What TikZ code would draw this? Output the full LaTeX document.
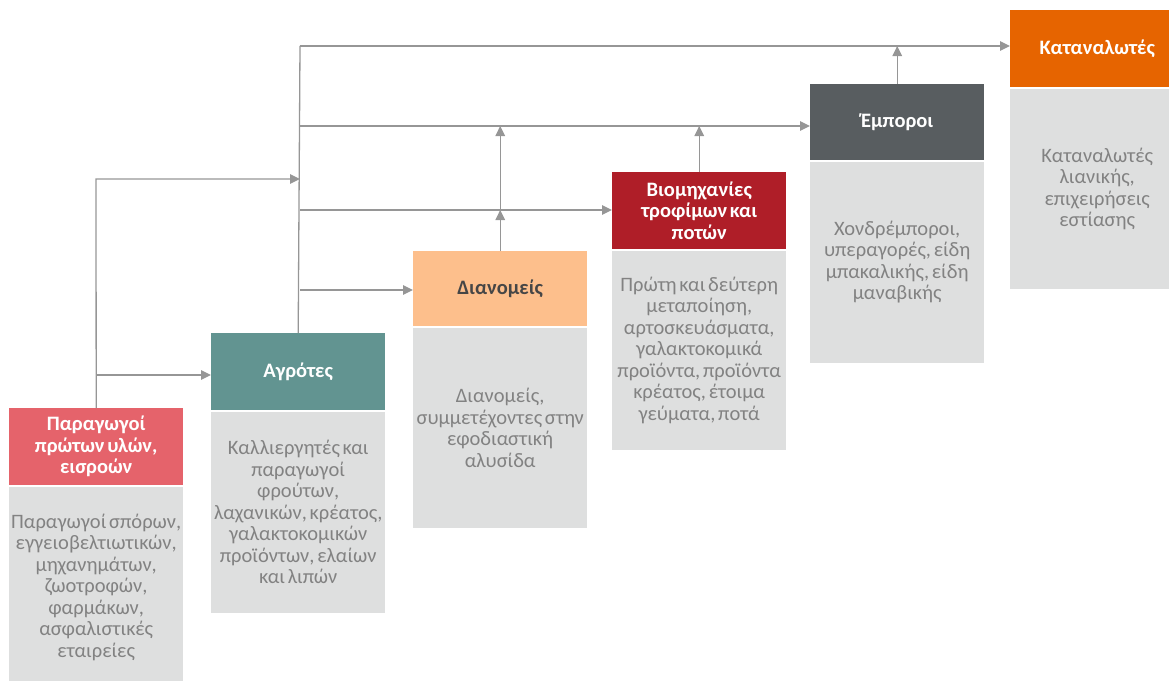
\documentclass[tikz,border=0pt]{standalone}
\usepackage{fontspec}
\setmainfont{Carlito}[WordSpace=0.6]
\usetikzlibrary{arrows.meta}
\definecolor{hRed}{RGB}{229,99,107}
\definecolor{hTeal}{RGB}{98,148,145}
\definecolor{hPeach}{RGB}{253,191,140}
\definecolor{hDark}{RGB}{175,30,40}
\definecolor{hGray}{RGB}{88,93,96}
\definecolor{hOrange}{RGB}{230,100,0}
\definecolor{bodyGray}{RGB}{222,223,223}
\definecolor{bodyText}{RGB}{130,130,130}
\definecolor{lineGray}{RGB}{150,150,150}
\definecolor{darkText}{RGB}{70,70,70}
\begin{document}
\begin{tikzpicture}[x=1pt,y=-1pt,
  hdr/.style={anchor=north west, minimum width=174pt, inner sep=0pt, align=center,
    font=\fontsize{20.5}{21.5}\selectfont\bfseries, text=white},
  bdy/.style={anchor=north west, minimum width=174pt, minimum height=200pt, inner sep=0pt,
    align=center, fill=bodyGray, text=bodyText, font=\fontsize{20.5}{21.5}\selectfont},
  conn/.style={draw=lineGray, line width=1.3pt},
  arr/.style={conn, -{Triangle[length=10pt,width=9.5pt]}}]
\useasboundingbox (0,0) rectangle (1169,680);
\clip (0,0) rectangle (1169,680);

% box 1
\node[hdr, fill=hRed, minimum height=77pt] (h1) at (9,408) {Παραγωγοί\\πρώτων υλών,\\εισροών};
\node[bdy] (b1) at (9,487) {Παραγωγοί σπόρων,\\εγγειοβελτιωτικών,\\μηχανημάτων,\\ζωοτροφών,\\φαρμάκων,\\ασφαλιστικές\\εταιρείες};
% box 2
\node[hdr, fill=hTeal, minimum height=77pt] (h2) at (211,333) {Αγρότες};
\node[bdy, minimum height=201pt] (b2) at (211,411.5) {Καλλιεργητές και\\παραγωγοί\\φρούτων,\\λαχανικών, κρέατος,\\γαλακτοκομικών\\προϊόντων, ελαίων\\και λιπών};
% box 3
\node[hdr, fill=hPeach, text=darkText, minimum height=75pt] (h3) at (413,251) {Διανομείς};
\node[bdy, minimum height=200pt] (b3) at (413,327.5) {Διανομείς,\\συμμετέχοντες στην\\εφοδιαστική\\αλυσίδα};
% box 4
\node[hdr, fill=hDark, minimum height=77pt] (h4) at (612,172) {Βιομηχανίες\\τροφίμων και\\ποτών};
\node[bdy, minimum height=199pt] (b4) at (612,250.5) {Πρώτη και δεύτερη\\μεταποίηση,\\αρτοσκευάσματα,\\γαλακτοκομικά\\προϊόντα, προϊόντα\\κρέατος, έτοιμα\\γεύματα, ποτά};
% box 5
\node[hdr, fill=hGray, minimum height=76pt] (h5) at (810,84) {Έμποροι};
\node[bdy, minimum height=201pt] (b5) at (810,161.5) {Χονδρέμποροι,\\υπεραγορές, είδη\\μπακαλικής, είδη\\μαναβικής};
% box 6
\node[hdr, fill=hOrange, minimum height=77pt] (h6) at (1010,10) {Καταναλωτές};
\node[bdy, minimum height=200pt] (b6) at (1010,88.5) {Καταναλωτές\\λιανικής,\\επιχειρήσεις\\εστίασης};

% connector coordinates
\coordinate (c1) at (96,179);
\coordinate (t1) at (300,179);
\coordinate (c2) at (96,375);
\coordinate (top) at (300,46);
\coordinate (t5) at (300,126);
\coordinate (t4) at (300,210);
\coordinate (t3) at (300,290);

% left feeder
\draw[arr] (h1.north) -- (c1) -- (t1);
\draw[arr] (c2) -- (c2 -| h2.west);
% trunk
\draw[conn] (h2.north) -- (top);
\draw[arr] (top) -- (top -| h6.west);
\draw[arr] (t5) -- (t5 -| h5.west);
\draw[arr] (t4) -- (t4 -| h4.west);
\draw[arr] (t3) -- (t3 -| h3.west);
% upward arrows
\draw[arr] (h3.north) -- (h3.north |- t4);
\draw[arr] (h3.north |- t4) -- (h3.north |- t5);
\draw[arr] (h4.north) -- (h4.north |- t5);
\draw[arr] (h5.north) -- (h5.north |- top);
\end{tikzpicture}
\end{document}
